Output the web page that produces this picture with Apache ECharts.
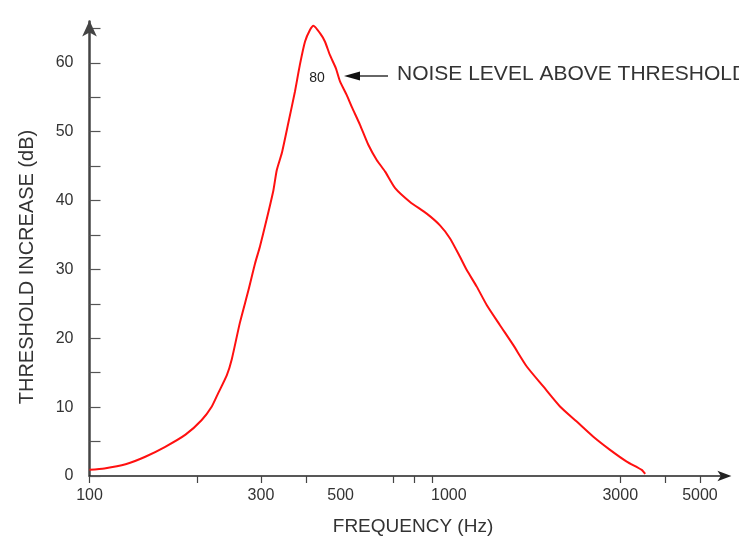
<!DOCTYPE html>
<html><head><meta charset="utf-8">
<script src="https://cdn.jsdelivr.net/npm/echarts@6/dist/echarts.min.js"></script>
<style>html,body{margin:0;padding:0;background:#fff}#c{width:739px;height:538px}</style>
</head><body><div id="c"></div>
<script>
// Frequency (Hz) and threshold increase (dB)
const frequencies = [100, 110, 126, 143, 162, 185, 205, 219, 228, 241, 249, 262, 277, 289, 298, 311, 325, 332, 343, 358, 373, 385, 398, 411, 420, 438, 452, 467, 485, 498, 520, 537, 566, 597, 630, 665, 709, 780, 868, 945, 1008, 1075, 1122, 1196, 1276, 1388, 1512, 1648, 1832, 2039, 2270, 2525, 2810, 3127, 3443, 3520];
const thresholdIncrease = [0.9, 1.1, 1.7, 2.8, 4.2, 6.0, 8.1, 10.1, 12.0, 14.6, 17.0, 22.2, 27.0, 30.9, 33.3, 37.2, 41.5, 44.4, 46.9, 51.4, 55.8, 59.7, 63.1, 64.8, 65.4, 64.3, 63.1, 61.1, 59.2, 57.3, 55.3, 53.6, 51.0, 48.1, 45.9, 44.2, 41.8, 39.8, 38.1, 36.4, 34.5, 31.8, 29.9, 27.5, 24.8, 21.9, 19.0, 15.9, 13.0, 10.1, 7.9, 5.7, 3.8, 2.1, 0.9, 0.3];
const xTickValues = [100, 200, 300, 400, 700, 800, 900, 3000, 4000, 5000];
const xLabelValues = [100, 300, 500, 1000, 3000, 5000];
const yTickValues = [0, 5, 10, 15, 20, 25, 30, 35, 40, 45, 50, 55, 60, 65];
const yLabelValues = [0, 10, 20, 30, 40, 50, 60];
const xMin = 100, xMax = 6000, yMin = 0, yMax = 66;
const xTitle = 'FREQUENCY (Hz)';
const yTitle = 'THRESHOLD INCREASE (dB)';
const peakNote = '80';
const arrowNote = 'NOISE LEVEL ABOVE THRESHOLD';

const lg = v => Math.log10(v);
const data = frequencies.map((f, i) => [lg(f), thresholdIncrease[i]]);
const FONT = "'Liberation Sans', Arial, sans-serif";

const chart = echarts.init(document.getElementById('c'), null, {renderer: 'canvas'});
chart.setOption({
  backgroundColor: '#ffffff',
  animation: false,
  grid: {left: 89.5, right: 10.6, top: 21.5, bottom: 62, outerBoundsMode: 'none', containLabel: false},
  xAxis: {
    type: 'value', min: lg(xMin), max: lg(xMax),
    axisLine: {show: true, onZero: true, symbol: ['none', 'arrow'], symbolSize: [8, 14], symbolOffset: [0, 3],
      lineStyle: {color: '#222', width: 1.5}},
    axisTick: {show: true, inside: false, length: 7, customValues: xTickValues.map(lg),
      lineStyle: {color: '#444', width: 1.2}},
    axisLabel: {show: true, margin: 12, customValues: xLabelValues.map(lg),
      formatter: v => String(Math.round(Math.pow(10, v))),
      color: '#333', fontSize: 16, fontFamily: FONT},
    splitLine: {show: false}
  },
  yAxis: {
    type: 'value', min: yMin, max: yMax,
    axisLine: {show: true, symbol: ['none', 'arrow'], symbolSize: [11, 16], symbolOffset: [0, 1],
      lineStyle: {color: '#444', width: 2.5}},
    axisTick: {show: true, inside: true, length: 11, customValues: yTickValues,
      lineStyle: {color: '#555', width: 1.2}},
    axisLabel: {show: true, margin: 16, customValues: yLabelValues,
      color: '#333', fontSize: 16, fontFamily: FONT},
    splitLine: {show: false}
  },
  series: [{
    type: 'line', data: data, smooth: 0.2, showSymbol: false,
    lineStyle: {color: '#ff1010', width: 2},
    z: 3
  }],
  graphic: [
    {type: 'text', x: 27, y: 267, rotation: Math.PI / 2,
      style: {text: yTitle, align: 'center', verticalAlign: 'middle', font: "20px 'Liberation Sans', Arial, sans-serif", fill: '#333'}},
    {type: 'text', x: 413, y: 527,
      style: {text: xTitle, align: 'center', verticalAlign: 'middle', font: "19px 'Liberation Sans', Arial, sans-serif", fill: '#333'}},
    {type: 'text', x: 317, y: 78,
      style: {text: peakNote, align: 'center', verticalAlign: 'middle', font: "14px 'Liberation Sans', Arial, sans-serif", fill: '#222'}},
    {type: 'line', shape: {x1: 358, y1: 76, x2: 388, y2: 76}, style: {stroke: '#333', lineWidth: 1.5}},
    {type: 'polygon', shape: {points: [[344, 76], [360, 71.5], [360, 80.5]]}, style: {fill: '#111'}},
    {type: 'text', x: 397, y: 74,
      style: {text: arrowNote, align: 'left', verticalAlign: 'middle', font: "21px 'Liberation Sans', Arial, sans-serif", fill: '#333'}}
  ]
});
</script>
</body></html>
